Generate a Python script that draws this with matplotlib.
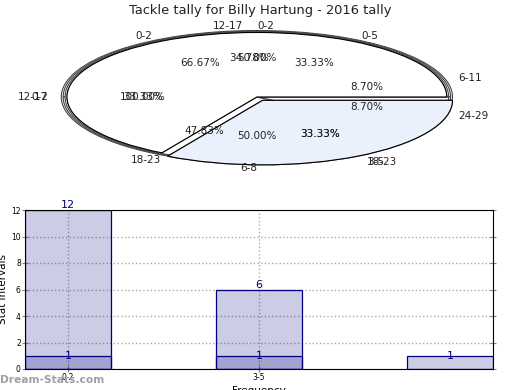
import numpy as np
import matplotlib as mpl
mpl.use('Agg')
from matplotlib import pyplot as plt

# pie layers (drawn bottom to top)
labels_e = ["0-2"]
values_e = [1]
labels_d = ["0-5", "12-17", "18-23"]
values_d = [1, 1, 1]
labels_c = ["0-2", "6-8"]
values_c = [1, 1]
labels_a = ["6-11", "12-17", "18-23", "24-29"]
values_a = [2, 8, 11, 2]
labels_b = ["0-2", "3-5"]
values_b = [2, 1]

# bar chart
categories = ["0-2", "3-5", "6-8"]
counts_main = [12, 6, 1]
counts_second = [1, 1]

title = "Tackle tally for Billy Hartung - 2016 tally"

sz = 7.5
navy = (0, 0, 0.5)

fig = plt.figure(figsize=(5.2, 3.9), dpi=100)

# ---- pie part
axp = fig.add_axes([0.0375, 0.5446, 0.913, 0.4135])
layers = [
    (values_e, labels_e, 1.03, [0]),
    (values_c, labels_c, 1.02, [0, 0]),
    (values_a, labels_a, 1.01, [0, 0, 0, 0]),
    (values_d, labels_d, 1.0, [0, 0, 0.06]),
]
pie_texts = {}
for vals, labs, r, expl in layers:
    _, txts, _ = axp.pie(vals, labels=labs, radius=r, explode=expl,
                         colors=['white'] * len(vals), autopct='%1.2f%%',
                         labeldistance=1.1 / r, pctdistance=0.6 / r,
                         wedgeprops=dict(edgecolor='#444444', linewidth=0.8),
                         textprops=dict(fontsize=sz, color='#222222'))
    pie_texts[id(labs)] = txts
axp.pie(values_b, labels=labels_b, radius=1.0, explode=[0, 0.06],
        colors=['white', '#eaf0fc'], autopct='%1.2f%%',
        wedgeprops=dict(edgecolor='black', linewidth=0.8),
        textprops=dict(fontsize=sz, color='#222222'))

# labels sitting straight above / below the centre
txt_c = pie_texts[id(labels_c)]
txt_c[0].set_ha('left')
txt_c[1].set_ha('right')

axp.set_aspect('auto')
axp.set_xlim(-1.25, 1.25)
axp.set_ylim(-1.25, 1.25)
axp.axis('off')

fig.text(0.5, 0.974, title, ha='center', va='center', fontsize=9.4, color='#222222')

# ---- bar part
ax = fig.add_axes([25 / 520, 21 / 390, 468 / 520, 159 / 390])
x = np.arange(len(categories))
ax.bar(x, counts_main, width=0.45, color=(0, 0, 0.5, 0.2), edgecolor=navy, linewidth=0.9, zorder=2)
ax.bar(x[:len(counts_second)], counts_second, width=0.45, color=(0, 0, 0.5, 0.2),
       edgecolor=navy, linewidth=0.9, zorder=2)
for xi, v in zip(x, counts_main):
    ax.text(xi, v, str(v), ha='center', va='bottom' if v > 1 else 'center',
            fontsize=8, color=navy, zorder=3)
for xi, v in zip(x, counts_second):
    ax.text(xi, v, str(v), ha='center', va='center', fontsize=8, color=navy, zorder=3)

ax.set_xlim(-0.225, 2.225)
ax.set_ylim(0, 12)
ax.set_yticks(range(0, 13, 2))
ax.set_xticks(x[:2])
ax.set_xticklabels(categories[:2])
ax.tick_params(axis='both', labelsize=5.5, color='gray', direction='inout', length=4, pad=1)
ax.yaxis.set_ticks_position('both')
ax.grid(True, linestyle=':', color='#aaaaaa', linewidth=1, zorder=0)
ax.set_axisbelow(True)
ax.set_ylabel("Stat Intervals", fontsize=7.5, labelpad=2)
ax.set_xlabel("Frequency", fontsize=7.5, labelpad=3)

fig.text(0.0, 0.025, "Dream-Stats.com", ha='left', va='center', fontsize=7.7,
         fontweight='bold', color='#a0a0a0')

plt.savefig("out.png")
plt.close()
